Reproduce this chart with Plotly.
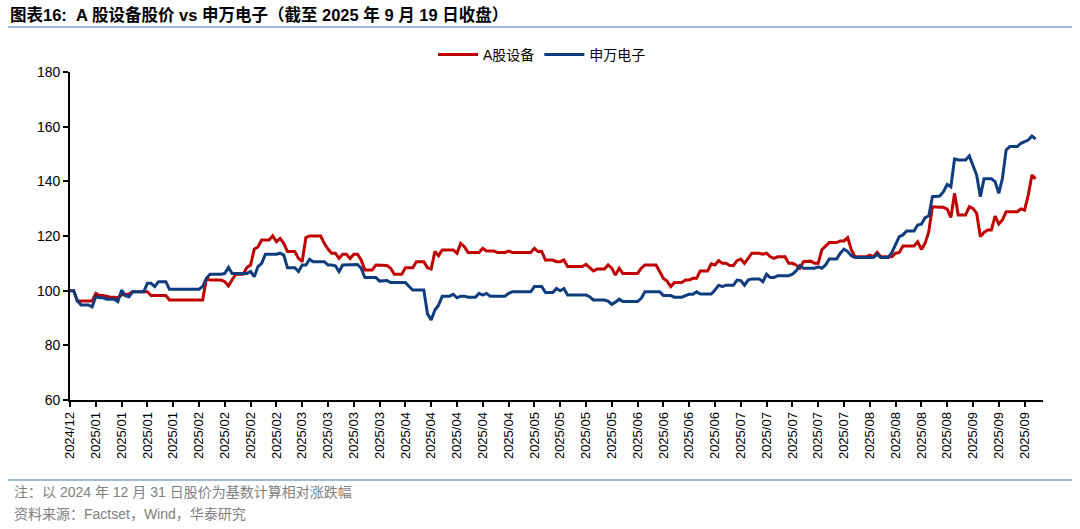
import pandas as pd
import plotly.graph_objects as go

# ---- data (calendar days, 2024-12-31 .. 2025-09-19, rebased to 100) ----
dates = pd.date_range("2024-12-31", "2025-09-19", freq="D")

a_share_equipment = [
    100, 100, 96.2, 96.2, 96.2, 96.2, 96.2,
    99.0, 98.2, 98.2, 97.8, 97.6, 97.6, 97.4,
    98.5, 98.5, 98.8, 99.6, 99.6, 99.6, 99.6,
    99.6, 98.2, 98.2, 98.2, 98.2, 98.2, 96.6,
    96.6, 96.6, 96.6, 96.6, 96.6, 96.6, 96.6,
    96.6, 96.6, 104.3, 103.9, 103.9, 103.9, 103.9,
    103.3, 101.7, 104.0, 106.0, 106.0, 106.0, 108.5,
    109.4, 115.2, 116.0, 118.5, 118.5, 118.5, 120.1,
    117.9, 119.1, 117.3, 114.3, 114.3, 114.3, 111.8,
    110.6, 119.4, 120.0, 120.0, 120.0, 120.0, 117.3,
    115.2, 113.7, 113.7, 111.8, 113.3, 113.3, 111.8,
    113.3, 113.3, 111.2, 107.6, 107.6, 107.6, 109.4,
    109.4, 109.4, 109.2, 108.2, 106.0, 106.0, 106.0,
    108.4, 108.4, 108.4, 110.6, 110.6, 110.6, 108.4,
    107.9, 114.3, 112.8, 114.9, 114.9, 114.9, 114.9,
    113.7, 117.3, 116.1, 114.0, 114.0, 114.0, 114.0,
    115.5, 114.5, 114.5, 114.5, 114.0, 114.0, 114.0,
    114.5, 114.0, 114.0, 114.0, 114.0, 114.0, 114.0,
    115.5, 114.3, 114.3, 111.2, 111.2, 111.2, 110.6,
    110.6, 111.2, 108.8, 108.8, 108.8, 108.8, 108.8,
    109.6, 108.4, 107.2, 107.9, 107.9, 107.9, 109.4,
    108.2, 105.7, 108.2, 106.3, 106.3, 106.3, 106.3,
    106.3, 108.2, 109.4, 109.4, 109.4, 109.4, 107.0,
    104.5, 103.5, 101.5, 103.0, 103.0, 103.0, 103.9,
    103.9, 104.5, 104.5, 107.2, 107.2, 107.2, 109.8,
    109.4, 111.0, 110.0, 110.0, 109.2, 109.2, 111.0,
    111.6, 110.0, 111.8, 113.7, 113.7, 113.7, 113.3,
    113.7, 112.4, 111.8, 112.4, 112.4, 112.4, 110.0,
    110.0, 109.4, 108.2, 110.6, 110.8, 110.8, 110.0,
    110.0, 115.0, 116.5, 117.6, 117.6, 117.6, 118.2,
    118.2, 119.4, 115.0, 112.4, 112.4, 112.4, 112.4,
    113.0, 112.4, 114.0, 112.4, 112.4, 112.4, 112.4,
    113.7, 114.0, 116.3, 116.3, 116.3, 116.3, 117.9,
    115.1, 117.3, 121.6, 130.7, 130.5, 130.5, 130.5,
    129.8, 126.8, 135.6, 127.7, 127.7, 127.7, 130.7,
    130.1, 128.3, 119.8, 121.3, 122.2, 122.2, 127.3,
    124.4, 125.9, 128.9, 128.9, 128.9, 128.9, 129.9,
    129.5, 135.0, 142.3, 140.9,
]

sw_electronics = [
    100, 100, 96.2, 94.8, 94.8, 94.8, 94.1,
    97.8, 97.4, 97.4, 96.9, 96.9, 96.9, 96.0,
    100.2, 98.2, 97.8, 99.6, 99.6, 99.6, 99.6,
    102.7, 102.7, 101.5, 103.3, 103.3, 103.3, 100.5,
    100.5, 100.5, 100.5, 100.5, 100.5, 100.5, 100.5,
    100.5, 101.5, 104.5, 106.0, 106.0, 106.0, 106.0,
    106.3, 108.5, 106.3, 106.3, 106.3, 106.3, 106.3,
    107.0, 105.1, 108.8, 110.0, 113.3, 113.3, 113.3,
    113.3, 113.7, 113.0, 108.4, 108.4, 108.4, 107.0,
    109.4, 109.4, 111.5, 110.6, 110.6, 110.6, 110.6,
    109.4, 109.4, 109.1, 107.0, 109.4, 109.4, 109.4,
    109.4, 109.6, 108.2, 104.8, 104.8, 104.8, 104.8,
    103.5, 103.7, 103.7, 103.0, 103.0, 103.0, 103.0,
    103.0, 101.5, 100.2, 100.2, 100.2, 100.2, 91.5,
    89.3, 92.9, 94.7, 98.0, 98.0, 98.0, 98.7,
    97.4, 98.0, 98.0, 97.6, 97.6, 97.6, 99.0,
    98.4, 99.0, 98.0, 98.0, 98.0, 98.0, 98.0,
    99.0, 99.6, 99.6, 99.6, 99.6, 99.6, 99.6,
    101.5, 101.5, 101.5, 99.3, 99.3, 99.3, 100.8,
    100.0, 100.8, 98.4, 98.4, 98.4, 98.4, 98.4,
    98.4, 97.8, 96.6, 96.6, 96.6, 96.6, 96.2,
    95.0, 95.8, 96.9, 96.0, 96.0, 96.0, 96.0,
    96.0, 97.2, 99.6, 99.6, 99.6, 99.6, 99.6,
    98.2, 98.2, 98.2, 97.6, 97.6, 97.6, 98.2,
    98.7, 98.7, 99.6, 98.8, 98.8, 98.8, 98.8,
    100.2, 102.0, 101.5, 102.0, 102.0, 102.0, 103.9,
    103.7, 102.0, 103.9, 104.3, 104.3, 104.3, 103.3,
    106.0, 104.8, 104.8, 105.5, 105.5, 105.5, 105.5,
    106.0, 107.2, 109.2, 108.2, 108.2, 108.2, 108.2,
    108.7, 108.2, 109.4, 111.6, 111.6, 111.6, 113.7,
    115.2, 114.3, 112.8, 112.1, 112.1, 112.1, 112.1,
    112.1, 112.1, 113.3, 112.1, 112.1, 112.1, 114.0,
    117.0, 119.8, 120.4, 121.8, 121.8, 121.8, 124.0,
    124.3, 126.7, 127.3, 134.4, 134.6, 134.6, 136.2,
    138.9, 138.0, 148.2, 147.8, 147.8, 147.8, 149.3,
    145.4, 142.3, 134.4, 140.9, 140.9, 140.9, 139.9,
    135.6, 141.1, 151.5, 152.7, 152.7, 152.7, 153.9,
    154.5, 155.1, 156.6, 155.5,
]

series_names = ["A股设备", "申万电子"]
y_ticks = [60, 80, 100, 120, 140, 160, 180]
tick_dates = dates[::7]
tick_labels = [d.strftime("%Y/%m") for d in tick_dates]

assert len(a_share_equipment) == len(dates) == len(sw_electronics)

# ---- figure ----
FONT = "Liberation Sans, Arial, Noto Sans CJK SC, sans-serif"
RED = "#C00000"
BLUE = "#0E3D7F"

fig = go.Figure()
fig.add_trace(go.Scatter(x=dates, y=a_share_equipment, mode="lines", name=series_names[0],
                         line=dict(color=RED, width=3)))
fig.add_trace(go.Scatter(x=dates, y=sw_electronics, mode="lines", name=series_names[1],
                         line=dict(color=BLUE, width=3)))

L, R, T, B = 70, 37, 72, 129
W, H = 1080, 529
pw, ph = W - L - R, H - T - B


def px(x):
    return (x - L) / pw


def py(y):
    return (H - B - y) / ph


fig.update_layout(
    width=W, height=H,
    margin=dict(l=L, r=R, t=T, b=B, pad=0),
    paper_bgcolor="white", plot_bgcolor="white",
    font=dict(family=FONT, color="#000000"),
    showlegend=True,
    legend=dict(orientation="h", x=px(542), xanchor="center", y=py(55), yanchor="middle",
                font=dict(size=14, family=FONT), bgcolor="rgba(0,0,0,0)",
                itemwidth=40, tracegroupgap=0),
    xaxis=dict(
        type="date",
        range=[dates[0], dates[-1] + pd.Timedelta(days=2)],
        tickmode="array", tickvals=tick_dates, ticktext=tick_labels,
        tickangle=-90, tickfont=dict(size=13, family=FONT, color="#000000"),
        ticks="outside", ticklen=5, tickwidth=1.5, tickcolor="#000000",
        showline=True, linecolor="#000000", linewidth=1.8,
        showgrid=False, zeroline=False,
    ),
    yaxis=dict(
        range=[60, 180], tickmode="array", tickvals=y_ticks,
        tickfont=dict(size=14, family=FONT, color="#000000"),
        ticks="outside", ticklen=5, tickwidth=1.5, tickcolor="#000000",
        showline=True, linecolor="#000000", linewidth=1.8,
        showgrid=False, zeroline=False,
    ),
)

fig.add_annotation(
    text="<b>图表16:  A 股设备股价 vs 申万电子（截至 2025 年 9 月 19 日收盘）</b>",
    xref="paper", yref="paper", x=px(8), y=py(15), xanchor="left", yanchor="middle",
    showarrow=False, font=dict(size=16.5, family="Liberation Sans, Noto Sans CJK SC", color="#000000"),
)
fig.add_annotation(
    text="注：以 2024 年 12 月 31 日股价为基数计算相对涨跌幅",
    xref="paper", yref="paper", x=px(12), y=py(492), xanchor="left", yanchor="middle",
    showarrow=False, font=dict(size=14, family=FONT, color="#808080"),
)
fig.add_annotation(
    text="资料来源：Factset，Wind，华泰研究",
    xref="paper", yref="paper", x=px(12), y=py(514), xanchor="left", yanchor="middle",
    showarrow=False, font=dict(size=14, family=FONT, color="#808080"),
)
fig.add_shape(type="line", xref="paper", yref="paper", x0=px(8), x1=px(1072), y0=py(27), y1=py(27),
              line=dict(color="#A3BAD4", width=2))
fig.add_shape(type="line", xref="paper", yref="paper", x0=px(8), x1=px(1072), y0=py(480), y1=py(480),
              line=dict(color="#A3BAD4", width=2))

fig.write_html("out.html")
